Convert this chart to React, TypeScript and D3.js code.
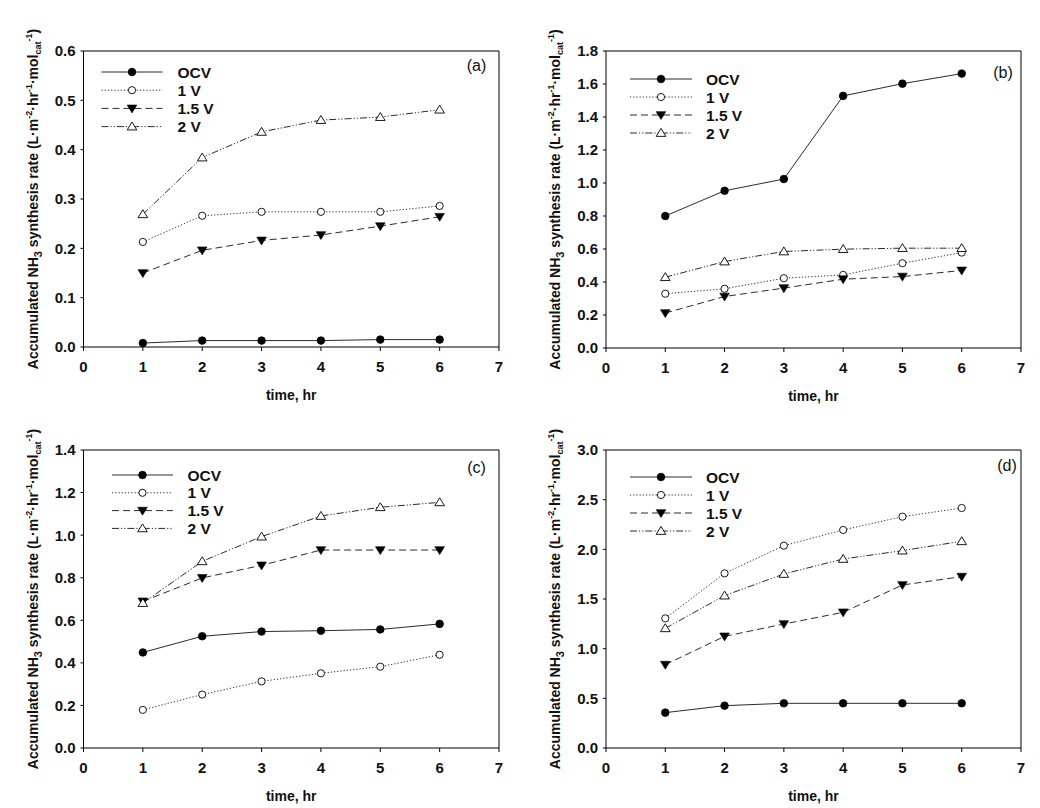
import React from "react";
import * as d3 from "d3";

const hours = [1, 2, 3, 4, 5, 6];
const seriesNames = ["OCV", "1 V", "1.5 V", "2 V"];

// Panel (a)
const aOCV = [0.008, 0.013, 0.013, 0.013, 0.015, 0.015];
const a1V = [0.213, 0.266, 0.274, 0.274, 0.274, 0.286];
const a15V = [0.15, 0.196, 0.216, 0.227, 0.245, 0.264];
const a2V = [0.269, 0.384, 0.436, 0.46, 0.466, 0.481];
// Panel (b)
const bOCV = [0.8, 0.953, 1.024, 1.528, 1.602, 1.663];
const b1V = [0.329, 0.359, 0.423, 0.443, 0.514, 0.578];
const b15V = [0.212, 0.312, 0.363, 0.417, 0.433, 0.47];
const b2V = [0.429, 0.524, 0.585, 0.599, 0.605, 0.605];
// Panel (c)
const cOCV = [0.449, 0.525, 0.547, 0.551, 0.557, 0.583];
const c1V = [0.179, 0.251, 0.313, 0.351, 0.382, 0.438];
const c15V = [0.689, 0.799, 0.858, 0.93, 0.93, 0.93];
const c2V = [0.681, 0.877, 0.993, 1.09, 1.131, 1.154];
// Panel (d)
const dOCV = [0.356, 0.426, 0.45, 0.45, 0.45, 0.45];
const d1V = [1.305, 1.758, 2.037, 2.195, 2.329, 2.416];
const d15V = [0.839, 1.124, 1.248, 1.366, 1.641, 1.725];
const d2V = [1.205, 1.534, 1.752, 1.903, 1.987, 2.081];

const xTicks = [0, 1, 2, 3, 4, 5, 6, 7];

const styles = [
  { dash: "none", marker: "circleFilled" },
  { dash: "1.2,2", marker: "circleOpen" },
  { dash: "7,4", marker: "triDown" },
  { dash: "7,2,1.2,2,1.2,2", marker: "triUp" },
];

const panels = [
  { id: "a", label: "(a)", x0: 83.5, x1: 499, y0: 51, y1: 347, ymax: 0.6, ystep: 0.1, dec: 1,
    series: [aOCV, a1V, a15V, a2V], leg: { lx: 18, ly: 21, gap: 18.2, len: 61, tx: 94 }, lab: { dx: -22.5, dy: 14 } },
  { id: "b", label: "(b)", x0: 606, x1: 1021, y0: 51, y1: 348, ymax: 1.8, ystep: 0.2, dec: 1,
    series: [bOCV, b1V, b15V, b2V], leg: { lx: 24, ly: 28, gap: 18, len: 62, tx: 100 }, lab: { dx: -18, dy: 21 } },
  { id: "c", label: "(c)", x0: 83.5, x1: 499, y0: 450, y1: 748, ymax: 1.4, ystep: 0.2, dec: 1,
    series: [cOCV, c1V, c15V, c2V], leg: { lx: 28.5, ly: 25, gap: 17.8, len: 61, tx: 104 }, lab: { dx: -22.5, dy: 17 } },
  { id: "d", label: "(d)", x0: 606, x1: 1021, y0: 450, y1: 748, ymax: 3.0, ystep: 0.5, dec: 1,
    series: [dOCV, d1V, d15V, d2V], leg: { lx: 24, ly: 27, gap: 18, len: 62, tx: 100 }, lab: { dx: -14, dy: 15 } },
];

const FONT = "'Liberation Sans', Arial, sans-serif";
const LINE = "#2a2a2a";

function Marker({ type, x, y }: { type: string; x: number; y: number }) {
  if (type === "circleFilled") return <circle cx={x} cy={y} r={3.8} fill="#000" stroke="#000" strokeWidth={0.8} />;
  if (type === "circleOpen") return <circle cx={x} cy={y} r={3.6} fill="#fff" stroke="#000" strokeWidth={0.9} />;
  const s = 4.8;
  if (type === "triDown")
    return <path d={`M${x - s},${y - s * 0.7}L${x + s},${y - s * 0.7}L${x},${y + s * 0.95}Z`} fill="#000" stroke="#000" strokeWidth={0.6} />;
  return <path d={`M${x - s},${y + s * 0.7}L${x + s},${y + s * 0.7}L${x},${y - s * 0.95}Z`} fill="#fff" stroke="#000" strokeWidth={0.9} />;
}

function Panel({ p }: { p: any }) {
  const x = d3.scaleLinear().domain([0, 7]).range([p.x0, p.x1]);
  const y = d3.scaleLinear().domain([0, p.ymax]).range([p.y1, p.y0]);
  const n = Math.round(p.ymax / p.ystep);
  const yTicks = d3.range(n + 1).map((i) => +(i * p.ystep).toFixed(3));
  const line = d3.line<number>().x((_, i) => x(hours[i])).y((v) => y(v));
  const cy = (p.y0 + p.y1) / 2;
  const tx = p.x0 - 46;
  return (
    <g>
      <path d={`M${p.x0},${p.y1}V${p.y0}H${p.x1}V${p.y1}`} fill="none" stroke="#000" strokeWidth={1} />
      <line x1={p.x0} x2={p.x1} y1={p.y1} y2={p.y1} stroke="#000" strokeWidth={1} />
      {yTicks.map((t) => (
        <g key={"y" + t}>
          <line x1={p.x0 - 3} x2={p.x0} y1={y(t)} y2={y(t)} stroke="#000" />
          <text x={p.x0 - 8} y={y(t)} dy="0.36em" textAnchor="end" fontFamily={FONT} fontWeight="bold" fontSize={15} fill="#111">
            {t.toFixed(p.dec)}
          </text>
        </g>
      ))}
      {xTicks.map((t) => (
        <g key={"x" + t}>
          <line x1={x(t)} x2={x(t)} y1={p.y1} y2={p.y1 + 4} stroke="#000" />
          <text x={x(t)} y={p.y1 + 25} textAnchor="middle" fontFamily={FONT} fontWeight="bold" fontSize={15} fill="#111">
            {t}
          </text>
        </g>
      ))}
      <text x={(p.x0 + p.x1) / 2} y={p.y1 + 53} textAnchor="middle" fontFamily={FONT} fontWeight="bold" fontSize={14} fill="#111">
        time, hr
      </text>
      <text transform={`translate(${tx},${cy}) rotate(-90)`} textAnchor="middle" fontFamily={FONT} fontWeight="bold" fontSize={14} fill="#111">
        <tspan>Accumulated NH</tspan>
        <tspan fontSize={11} dy={4}>3</tspan>
        <tspan dy={-4}> synthesis rate (L·m</tspan>
        <tspan fontSize={9} dy={-6}>-2</tspan>
        <tspan dy={6}>·hr</tspan>
        <tspan fontSize={9} dy={-6}>-1</tspan>
        <tspan dy={6}>·mol</tspan>
        <tspan fontSize={9} dy={3}>cat</tspan>
        <tspan fontSize={9} dy={-9}>-1</tspan>
        <tspan dy={6}>)</tspan>
      </text>
      {p.series.map((vals: number[], si: number) => (
        <g key={"s" + si}>
          <path d={line(vals) || ""} fill="none" stroke={LINE} strokeWidth={1} strokeDasharray={styles[si].dash} />
          {vals.map((v, i) => (
            <Marker key={i} type={styles[si].marker} x={x(hours[i])} y={y(v)} />
          ))}
        </g>
      ))}
      {seriesNames.map((nm, si) => {
        const ly = p.y0 + p.leg.ly + si * p.leg.gap;
        const lx = p.x0 + p.leg.lx;
        return (
          <g key={"l" + si}>
            <line x1={lx} x2={lx + p.leg.len} y1={ly} y2={ly} stroke={LINE} strokeWidth={1} strokeDasharray={styles[si].dash} />
            <Marker type={styles[si].marker} x={lx + p.leg.len / 2} y={ly} />
            <text x={p.x0 + p.leg.tx} y={ly} dy="0.36em" fontFamily={FONT} fontWeight="bold" fontSize={15.5} fill="#111">
              {nm}
            </text>
          </g>
        );
      })}
      <text x={p.x1 + p.lab.dx} y={p.y0 + p.lab.dy} dy="0.36em" textAnchor="middle" fontFamily={FONT} fontSize={16} fill="#111">
        {p.label}
      </text>
    </g>
  );
}

export default function App() {
  return (
    <svg width={1040} height={808} style={{ position: "absolute", left: 0, top: 0, background: "#fff" }}>
      <rect width={1040} height={808} fill="#fff" />
      {panels.map((p) => (
        <Panel key={p.id} p={p} />
      ))}
    </svg>
  );
}
